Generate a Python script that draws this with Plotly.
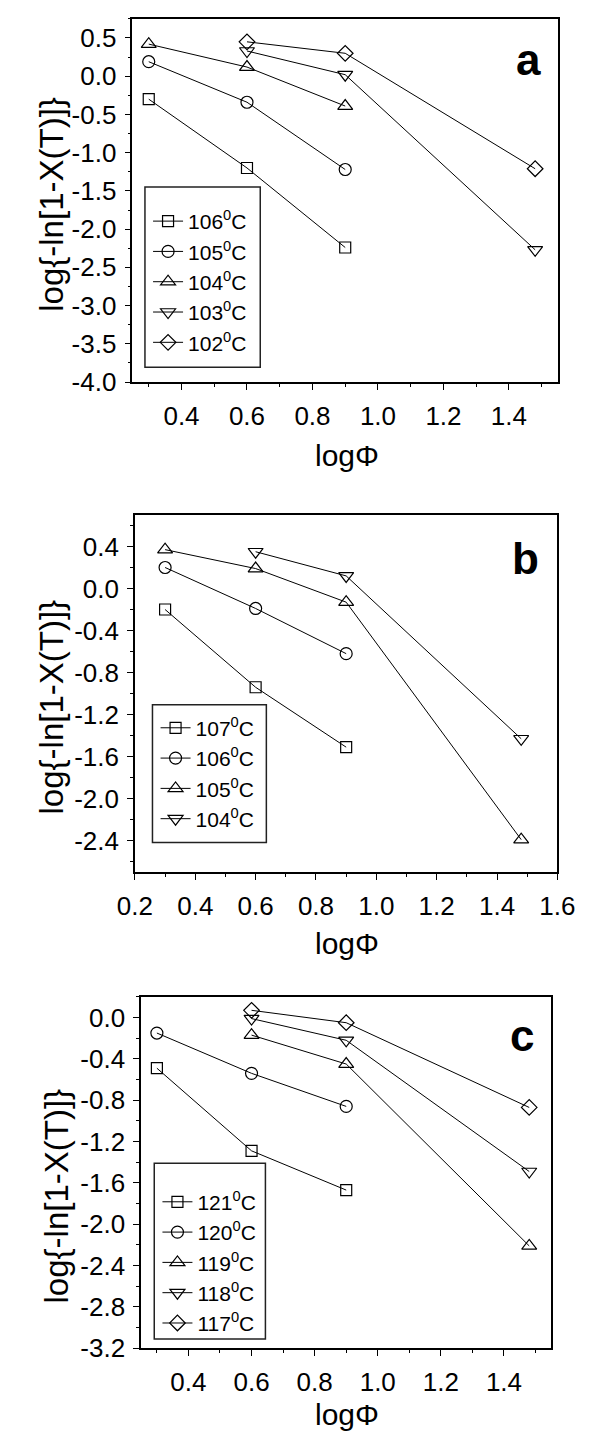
import plotly.graph_objects as go

W, H = 589, 1439

# ---------------- data ----------------
x3 = [0.30, 0.60, 0.90]
x3b = [0.60, 0.90, 1.48]
x4 = [0.30, 0.60, 0.90, 1.48]

a_names = ["106<sup>0</sup>C", "105<sup>0</sup>C", "104<sup>0</sup>C", "103<sup>0</sup>C", "102<sup>0</sup>C"]
a_106 = [-0.30, -1.20, -2.24]
a_105 = [0.19, -0.34, -1.22]
a_104 = [0.42, 0.12, -0.39]
a_103 = [0.33, 0.02, -2.27]
a_102 = [0.45, 0.30, -1.21]

b_names = ["107<sup>0</sup>C", "106<sup>0</sup>C", "105<sup>0</sup>C", "104<sup>0</sup>C"]
b_107 = [-0.20, -0.94, -1.51]
b_106 = [0.20, -0.19, -0.62]
b_105 = [0.37, 0.19, -0.13, -2.39]
b_104 = [0.35, 0.12, -1.43]

c_names = ["121<sup>0</sup>C", "120<sup>0</sup>C", "119<sup>0</sup>C", "118<sup>0</sup>C", "117<sup>0</sup>C"]
c_121 = [-0.49, -1.29, -1.67]
c_120 = [-0.15, -0.54, -0.86]
c_119 = [-0.17, -0.45, -2.21]
c_118 = [-0.01, -0.22, -1.49]
c_117 = [0.07, -0.05, -0.87]

xt_ac = [0.4, 0.6, 0.8, 1.0, 1.2, 1.4]
xt_ac_txt = ["0.4", "0.6", "0.8", "1.0", "1.2", "1.4"]
xt_b = [0.2, 0.4, 0.6, 0.8, 1.0, 1.2, 1.4, 1.6]
xt_b_txt = ["0.2", "0.4", "0.6", "0.8", "1.0", "1.2", "1.4", "1.6"]
yt_a = [0.5, 0.0, -0.5, -1.0, -1.5, -2.0, -2.5, -3.0, -3.5, -4.0]
yt_a_txt = ["0.5", "0.0", "-0.5", "-1.0", "-1.5", "-2.0", "-2.5", "-3.0", "-3.5", "-4.0"]
yt_b = [0.4, 0.0, -0.4, -0.8, -1.2, -1.6, -2.0, -2.4]
yt_b_txt = ["0.4", "0.0", "-0.4", "-0.8", "-1.2", "-1.6", "-2.0", "-2.4"]
yt_c = [0.0, -0.4, -0.8, -1.2, -1.6, -2.0, -2.4, -2.8, -3.2]
yt_c_txt = ["0.0", "-0.4", "-0.8", "-1.2", "-1.6", "-2.0", "-2.4", "-2.8", "-3.2"]

x_title = "logΦ"
y_title = "log{-ln[1-X(T)]}"

# ---------------- helpers ----------------
def px(x):
    return x / W

def py(y):
    return 1 - y / H

FONT = "Liberation Sans, Arial, Helvetica, sans-serif"
symbols = ["square-open", "circle-open", "triangle-up-open", "triangle-down-open", "diamond-open"]
sizes = {"square-open": 11, "circle-open": 12, "triangle-up-open": 13,
         "triangle-down-open": 13, "diamond-open": 12}

fig = go.Figure()

def add(xv, yv, name, sym, xa, ya, leg):
    fig.add_trace(go.Scatter(
        x=xv, y=yv, name=name, mode="lines+markers",
        xaxis=xa, yaxis=ya, legend=leg,
        line=dict(color="black", width=1),
        marker=dict(symbol=sym, size=sizes[sym], color="black",
                    line=dict(color="black", width=1.2)),
    ))

# panel a
add(x3, a_106, a_names[0], symbols[0], "x", "y", "legend")
add(x3, a_105, a_names[1], symbols[1], "x", "y", "legend")
add(x3, a_104, a_names[2], symbols[2], "x", "y", "legend")
add(x3b, a_103, a_names[3], symbols[3], "x", "y", "legend")
add(x3b, a_102, a_names[4], symbols[4], "x", "y", "legend")
# panel b
add(x3, b_107, b_names[0], symbols[0], "x2", "y2", "legend2")
add(x3, b_106, b_names[1], symbols[1], "x2", "y2", "legend2")
add(x4, b_105, b_names[2], symbols[2], "x2", "y2", "legend2")
add(x3b, b_104, b_names[3], symbols[3], "x2", "y2", "legend2")
# panel c
add(x3, c_121, c_names[0], symbols[0], "x3", "y3", "legend3")
add(x3, c_120, c_names[1], symbols[1], "x3", "y3", "legend3")
add(x3b, c_119, c_names[2], symbols[2], "x3", "y3", "legend3")
add(x3b, c_118, c_names[3], symbols[3], "x3", "y3", "legend3")
add(x3b, c_117, c_names[4], symbols[4], "x3", "y3", "legend3")

tickfont = dict(family=FONT, size=26, color="black")

def xax(dom_px, rng, tv, tt, anchor):
    return dict(domain=[px(dom_px[0]), px(dom_px[1])], range=rng, anchor=anchor,
                tickvals=tv, ticktext=tt, ticks="outside", ticklen=6, tickwidth=1.2,
                tickcolor="black", showline=True, linecolor="black", linewidth=1.5,
                mirror=True, showgrid=False, zeroline=False, tickfont=tickfont,
                ticklabelstandoff=4,
                minor=dict(dtick=0.1, tick0=0, ticks="outside", ticklen=3,
                           tickcolor="black", tickwidth=1, showgrid=False))

def yax(dom_py, rng, tv, tt, anchor, mdt):
    return dict(domain=[py(dom_py[1]), py(dom_py[0])], range=rng, anchor=anchor,
                tickvals=tv, ticktext=tt, ticks="outside", ticklen=6, tickwidth=1.2,
                tickcolor="black", showline=True, linecolor="black", linewidth=1.5,
                mirror=True, showgrid=False, zeroline=False, tickfont=tickfont,
                ticklabelstandoff=3,
                minor=dict(dtick=mdt, tick0=0, ticks="outside", ticklen=3,
                           tickcolor="black", tickwidth=1, showgrid=False))

legfont = dict(family=FONT, size=21, color="black")

def leg(xp, yp):
    return dict(x=px(xp), y=py(yp), xanchor="left", yanchor="top",
                bgcolor="rgba(0,0,0,0)", borderwidth=0, font=legfont,
                traceorder="normal", tracegroupgap=0)

fig.update_layout(
    width=W, height=H, autosize=False,
    margin=dict(l=0, r=0, t=0, b=0),
    paper_bgcolor="white", plot_bgcolor="white",
    font=dict(family=FONT, color="black"),
    xaxis=xax((113.3, 566.7), [0.25, 1.55], xt_ac, xt_ac_txt, "y"),
    yaxis=yax((11, 378), [-4.0, 0.75], yt_a, yt_a_txt, "x", 0.25),
    xaxis2=xax((116, 566), [0.2, 1.6], xt_b, xt_b_txt, "y2"),
    yaxis2=yax((512.3, 873.3), [-2.7, 0.7], yt_b, yt_b_txt, "x2", 0.2),
    xaxis3=xax((122.6, 559.5), [0.25, 1.55], xt_ac, xt_ac_txt, "y3"),
    yaxis3=yax((999.3, 1354.3), [-3.2, 0.2], yt_c, yt_c_txt, "x3", 0.2),
    legend=leg(130, 195),
    legend2=leg(138, 707),
    legend3=leg(140, 1186),
    showlegend=True,
)

# legend frames
for (x0, y0, x1, y1) in [(126.7, 181, 249.5, 363), (134.7, 704, 256, 843.3), (136.6, 1167.3, 255, 1345)]:
    fig.add_shape(type="rect", xref="paper", yref="paper",
                  x0=px(x0), x1=px(x1), y0=py(y1), y1=py(y0),
                  line=dict(color="#222", width=1.5), fillcolor="rgba(0,0,0,0)")

xtitlefont = dict(family=FONT, size=30, color="black")
ytitlefont = dict(family=FONT, size=33, color="black")
annots = []
for (cx, cy) in [(341.5, 452), (341.5, 945), (341.5, 1421)]:
    annots.append(dict(text=x_title, x=px(cx), y=py(cy), xref="paper", yref="paper",
                       showarrow=False, font=xtitlefont, xanchor="center", yanchor="middle"))
for (cx, cy) in [(27.5, 198), (27.5, 706), (33, 1200)]:
    annots.append(dict(text=y_title, x=px(cx), y=py(cy), xref="paper", yref="paper",
                       showarrow=False, font=ytitlefont, textangle=-90,
                       xanchor="center", yanchor="middle"))
for (t, cx, cy) in [("a", 535, 52), ("b", 532, 556), ("c", 528, 1038)]:
    annots.append(dict(text="<b>%s</b>" % t, x=px(cx), y=py(cy), xref="paper", yref="paper",
                       showarrow=False, font=dict(family=FONT, size=44, color="black"),
                       xanchor="center", yanchor="middle"))
fig.update_layout(annotations=annots)

fig.write_html("out.html")
